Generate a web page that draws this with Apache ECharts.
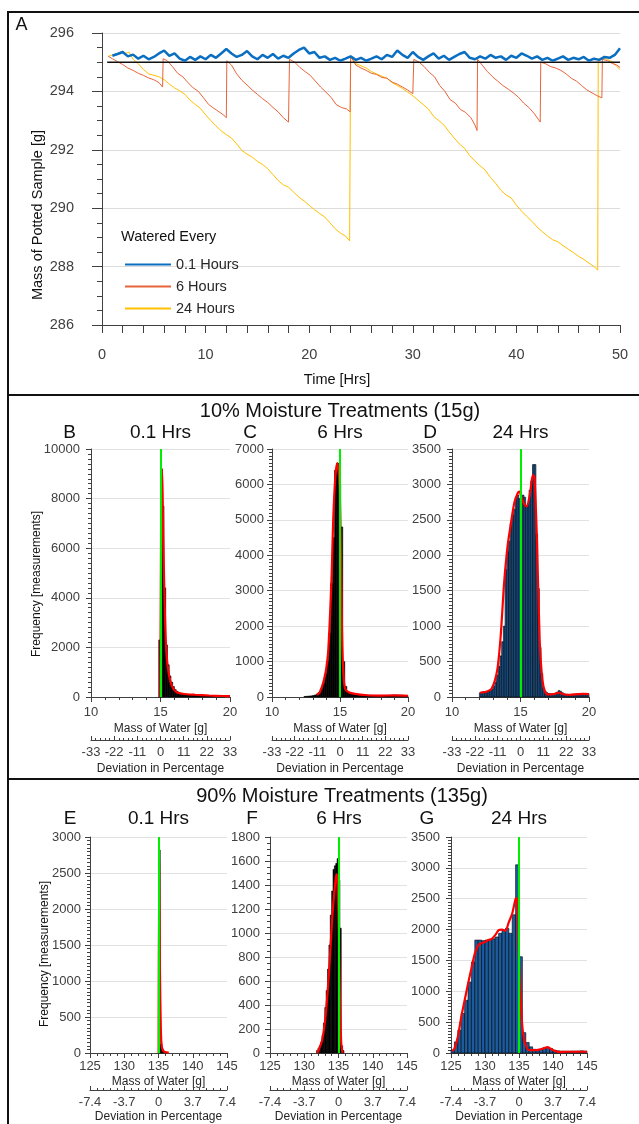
<!DOCTYPE html>
<html><head><meta charset="utf-8">
<script src="https://cdn.jsdelivr.net/npm/echarts@6/dist/echarts.min.js"></script>
<style>html,body{margin:0;padding:0;background:#fff}#c{width:639px;height:1124px}</style>
</head><body><div id="c"></div>
<script>
const FONT = '"Liberation Sans", Arial, sans-serif';
const TXT = '#262626', TICK = '#404040';

// ---------- Panel A: mass of potted sample over time ----------
const legendNames = ['0.1 Hours', '6 Hours', '24 Hours'];
const blueStart = 1.0, blueStep = 0.5;
const blueValues = [295.22,295.28,295.35,295.2,295.26,295.12,295.22,295.1,295.18,295.3,
295.4,295.22,295.3,295.12,295.05,295.18,295.08,295.2,295.1,295.25,
295.15,295.3,295.45,295.3,295.18,295.25,295.38,295.2,295.1,295.25,
295.15,295.28,295.12,295.22,295.15,295.3,295.42,295.5,295.3,295.35,
295.15,295.2,295.08,295.15,295.05,295.12,295.2,295.08,295.15,295.05,
295.12,295.2,295.1,295.25,295.18,295.4,295.25,295.15,295.35,295.18,
295.08,295.2,295.3,295.12,295.22,295.08,295.18,295.28,295.35,295.15,
295.1,295.2,295.12,295.25,295.15,295.2,295.08,295.22,295.15,295.3,
295.22,295.12,295.2,295.08,295.15,295.05,295.12,295.2,295.08,295.15,
295.1,295.18,295.05,295.12,295.08,295.18,295.15,295.25,295.48];
const orangeData = [
[0.6,295.2],[1.0,295.12],[1.5,295.02],[2.0,294.92],[2.5,294.8],[3.0,294.72],[3.5,294.62],[4.0,294.55],[4.5,294.46],[5.0,294.4],[5.5,294.3],[5.85,294.15],
[5.9,295.12],[6.3,295.05],[6.8,294.85],[7.3,294.62],[7.8,294.5],[8.3,294.3],[8.8,294.12],[9.3,294.0],[9.8,293.78],[10.3,293.55],[10.8,293.42],[11.3,293.3],[11.7,293.2],[12.0,293.1],
[12.05,295.05],[12.5,294.9],[13.0,294.6],[13.5,294.38],[14.0,294.22],[14.5,294.05],[15.0,293.9],[15.5,293.75],[16.0,293.62],[16.5,293.45],[17.0,293.3],[17.5,293.1],[18.0,292.95],
[18.1,295.1],[18.6,295.0],[19.1,294.82],[19.6,294.68],[20.1,294.55],[20.6,294.35],[21.1,294.15],[21.6,293.98],[22.1,293.8],[22.6,293.55],[23.1,293.45],[23.6,293.4],[23.95,293.3],
[24.0,295.2],[24.5,294.9],[25.0,294.8],[25.5,294.72],[26.0,294.62],[26.5,294.58],[27.0,294.48],[27.5,294.45],[28.0,294.32],[28.5,294.25],[29.0,294.15],[29.5,294.05],[30.0,293.92],
[30.1,295.1],[30.6,295.0],[31.1,294.85],[31.6,294.65],[32.1,294.5],[32.6,294.2],[33.1,294.0],[33.6,293.72],[34.1,293.6],[34.6,293.38],[35.1,293.28],[35.6,293.1],[36.0,292.85],[36.2,292.66],
[36.25,295.1],[36.7,294.9],[37.2,294.68],[37.7,294.5],[38.2,294.35],[38.7,294.2],[39.2,294.08],[39.7,293.95],[40.2,293.8],[40.7,293.6],[41.2,293.45],[41.7,293.25],[42.1,293.05],[42.3,292.95],
[42.35,295.0],[42.8,294.95],[43.3,294.85],[43.8,294.8],[44.3,294.72],[44.8,294.6],[45.3,294.45],[45.8,294.35],[46.3,294.2],[46.8,294.05],[47.3,293.95],[47.8,293.85],[48.25,293.78],
[48.3,295.1],[48.8,295.05],[49.3,294.95],[49.7,294.9],[50.0,294.82]];
const yellowData = [
[0.6,295.2],[1.0,295.25],[1.5,295.3],[2.0,295.38],[2.3,295.3],[2.6,295.35],[3.0,295.1],[3.5,294.95],[4.0,294.75],[4.5,294.6],[5.0,294.55],[5.5,294.5],[6.0,294.4],[6.5,294.25],[7.0,294.12],[7.5,294.02],[8.0,293.9],[8.5,293.7],[9.0,293.55],[9.5,293.42],[10.0,293.2],[10.5,293.0],[11.0,292.82],[11.5,292.65],[12.0,292.52],[12.5,292.4],[13.0,292.2],[13.5,291.98],[14.0,291.85],[14.5,291.75],[15.0,291.6],[15.5,291.5],[16.0,291.35],[16.5,291.15],[17.0,290.95],[17.5,290.8],[18.0,290.72],[18.5,290.55],[19.0,290.38],[19.5,290.25],[20.0,290.1],[20.5,289.95],[21.0,289.82],[21.5,289.7],[22.0,289.5],[22.5,289.3],[23.0,289.15],[23.5,289.05],[23.9,288.88],
[24.0,295.2],[24.5,294.95],[25.0,294.88],[25.5,294.8],[26.0,294.68],[26.5,294.6],[27.0,294.52],[27.5,294.45],[28.0,294.3],[28.5,294.2],[29.0,294.1],[29.5,293.98],[30.0,293.85],[30.5,293.7],[31.0,293.55],[31.5,293.4],[32.0,293.15],[32.5,293.0],[33.0,292.85],[33.5,292.62],[34.0,292.4],[34.5,292.2],[35.0,292.05],[35.5,291.8],[36.0,291.62],[36.5,291.45],[37.0,291.3],[37.5,291.05],[38.0,290.85],[38.5,290.62],[39.0,290.45],[39.5,290.35],[40.0,290.1],[40.5,289.9],[41.0,289.72],[41.5,289.55],[42.0,289.35],[42.5,289.2],[43.0,289.05],[43.5,288.92],[44.0,288.85],[44.5,288.72],[45.0,288.6],[45.5,288.48],[46.0,288.35],[46.5,288.25],[47.0,288.12],[47.5,288.0],[47.85,287.88],
[47.9,295.1],[48.3,295.15],[48.8,295.1],[49.3,295.0],[49.7,294.85],[50.0,294.75]];
const targetLine = [[0.5,295.0],[50,295.0]];

// ---------- Histograms ----------
const bStart = 14.875, bWidth = 0.125;
const bCounts = [2300,9200,7700,4400,2100,1300,850,600,420,300,230,190,160,140,125,115,105,95,90,85,80,75,70,65,62,58,55,52,50,47,45,42,40,38,36,34,32,30];
const bFit = [[14.98,0],[15.02,4000],[15.06,8500],[15.1,9200],[15.15,8300],[15.2,6400],[15.3,3700],[15.4,2050],[15.55,1100],[15.8,470],[16.15,200],[16.6,130],[17.5,90],[18.5,60],[19.5,40],[20,35]];

const cStart = 12.35, cWidth = 0.15;
const cCounts = [15,20,25,30,40,55,80,130,220,380,650,1000,1800,3200,4500,6400,6600,6000,4800,1000,300,150,110,90,80,75,70,65,60,55,55,50,50,48,46,45,45,44,44,45,46,48,50,52,55,55,52,50,48,45,40];
const cFit = [[13.3,60],[13.53,140],[13.9,610],[14.12,1230],[14.26,2260],[14.39,3490],[14.5,5000],[14.66,6230],[14.8,6600],[14.95,6130],[15.05,4430],[15.15,1790],[15.25,660],[15.37,240],[15.6,140],[16.0,95],[17.0,50],[18.0,40],[19.0,45],[20.0,35]];

const dStart = 12.0, dWidth = 0.125;
const dCounts = [60,70,75,78,80,82,90,110,150,210,310,430,580,780,1000,1800,2050,2200,2450,2570,2650,2820,2850,2800,2830,2850,2820,2700,2720,2920,3050,3280,3280,2300,1530,700,330,120,80,60,50,45,45,50,55,70,90,80,60,45,40,38,35,35,38,40,42,45,48,50,50,48,45,42];
const dFit = [[12.05,60],[12.5,75],[12.9,120],[13.3,380],[13.55,850],[13.8,1600],[14.05,2120],[14.3,2450],[14.55,2740],[14.8,2880],[14.92,2900],[15.1,2800],[15.3,2710],[15.45,2690],[15.7,2880],[15.9,3130],[16.02,3100],[16.2,2220],[16.4,800],[16.6,240],[16.8,70],[17.0,35],[17.4,40],[17.8,60],[18.2,35],[18.6,30],[19.2,40],[19.6,45],[20.0,40]];

const eStart = 135.0, eWidth = 0.25;
const eCounts = [2820,120,45,20,10];
const eFit = [[135.02,0],[135.08,2650],[135.2,1200],[135.35,300],[135.5,80],[135.8,20],[136.5,5]];

const fStart = 131.8, fWidth = 0.2;
const fCounts = [20,40,60,90,150,250,380,520,700,900,1150,1350,1530,1560,1580,1620,1440,1040,60,20];
const fFit = [[131.9,0],[132.1,25],[132.6,105],[133.1,300],[133.6,660],[134.1,1140],[134.5,1410],[134.7,1490],[134.85,1440],[135.05,1020],[135.2,470],[135.4,80],[135.6,0]];

const gStart = 125.0, gWidth = 0.5;
const gCounts = [45,180,370,640,855,1150,1475,1830,1830,1820,1830,1840,1850,1880,1940,1990,2020,1940,2240,3050,1560,330,170,100,60,55,60,85,90,70,45,35,30,28,28,30,30,32,35,30];
const gFit = [[125.2,30],[125.5,70],[126,260],[126.5,580],[127,850],[127.5,1120],[128,1370],[128.5,1610],[129,1745],[129.5,1780],[130,1800],[130.5,1830],[131,1850],[131.5,1910],[132,1990],[132.5,2000],[133,1980],[133.5,2120],[134,2260],[134.5,2500],[134.7,2510],[135,1500],[135.3,750],[135.6,310],[136,125],[136.5,45],[137.5,45],[138.5,70],[139.2,95],[140,45],[141,15],[142,20],[143,20],[144,20],[145,20]];

function bins(start, width, counts) {
  return counts.map((c, i) => [start + i * width, start + (i + 1) * width, c]);
}
const plain = v => String(v);

const histDefs = [
  {grid:{left:91,top:449,width:139,height:248}, xmin:10,xmax:20,target:15, ymax:10000,yint:2000,ms:10, ym:11, bars:bins(bStart,bWidth,bCounts), fill:'#000', fit:bFit, pct:100/3, pint:100/9, off:43, lm:9, ng1:26, ng2:23, ten:true},
  {grid:{left:272,top:449,width:136,height:248}, xmin:10,xmax:20,target:15, ymax:7000,yint:1000,ms:10, ym:8, bars:bins(cStart,cWidth,cCounts), fill:'#000', fit:cFit, pct:100/3, pint:100/9, off:43, lm:9, ng1:26, ng2:23, ten:true},
  {grid:{left:452,top:449,width:137,height:248}, xmin:10,xmax:20,target:15, ymax:3500,yint:500,ms:10, ym:11, bars:bins(dStart,dWidth,dCounts), fill:'#1a5c9e', fit:dFit, pct:100/3, pint:100/9, off:43, lm:9, ng1:26, ng2:23, ten:true},
  {grid:{left:90,top:837,width:137,height:216}, xmin:125,xmax:145,target:135, ymax:3000,yint:500,ms:10, ym:9, bars:bins(eStart,eWidth,eCounts), fill:'#000', fit:eFit, pct:1000/135, pint:500/135, off:37, lm:7, ng1:23, ng2:21, ten:false},
  {grid:{left:270,top:837,width:137,height:216}, xmin:125,xmax:145,target:135, ymax:1800,yint:200,ms:4, ym:10, bars:bins(fStart,fWidth,fCounts), fill:'#000', fit:fFit, pct:1000/135, pint:500/135, off:37, lm:7, ng1:23, ng2:21, ten:false},
  {grid:{left:451,top:837,width:136,height:216}, xmin:125,xmax:145,target:135, ymax:3500,yint:500,ms:10, ym:11, bars:bins(gStart,gWidth,gCounts), fill:'#1a5c9e', fit:gFit, pct:1000/135, pint:500/135, off:37, lm:7, ng1:23, ng2:21, ten:false}
];

const grids = [{left:102, top:33, width:518, height:292}];
const xAxes = [{
  gridIndex:0, type:'value', min:0, max:50, interval:10,
  axisLine:{onZero:false, lineStyle:{color:TICK, width:1}},
  axisTick:{length:8, lineStyle:{color:TICK}},
  minorTick:{show:true, splitNumber:5, length:8, lineStyle:{color:TICK}},
  axisLabel:{margin:22, fontSize:14.5, color:TICK, fontFamily:FONT, formatter:plain},
  splitLine:{show:false}
}];
const yAxes = [{
  gridIndex:0, type:'value', min:286, max:296, interval:2,
  axisLine:{show:true, onZero:false, lineStyle:{color:TICK, width:1}},
  axisTick:{show:true, length:10, lineStyle:{color:TICK}},
  minorTick:{show:true, splitNumber:4, length:5, lineStyle:{color:TICK}},
  axisLabel:{margin:28, fontSize:14.5, color:TICK, fontFamily:FONT, formatter:plain},
  splitLine:{lineStyle:{color:'#dcdcdc'}}
}];

const series = [
  {name:'24 Hours', type:'line', xAxisIndex:0, yAxisIndex:0, data:yellowData, symbol:'none', lineStyle:{color:'#FFC000', width:1}, itemStyle:{color:'#FFC000'}, z:2},
  {name:'6 Hours', type:'line', xAxisIndex:0, yAxisIndex:0, data:orangeData, symbol:'none', lineStyle:{color:'#E8643A', width:1}, itemStyle:{color:'#E8643A'}, z:3},
  {name:'target', type:'line', xAxisIndex:0, yAxisIndex:0, data:targetLine, symbol:'none', lineStyle:{color:'#111', width:1.5}, z:4},
  {name:'0.1 Hours', type:'line', xAxisIndex:0, yAxisIndex:0, data:blueValues.map((v,i)=>[blueStart+i*blueStep, v]), symbol:'none', lineStyle:{color:'#0A6FC2', width:2.5}, itemStyle:{color:'#0A6FC2'}, z:5}
];

histDefs.forEach((h, k) => {
  const gi = k + 1;
  grids.push(h.grid);
  const xi = xAxes.length;
  xAxes.push({
    gridIndex:gi, type:'value', min:h.xmin, max:h.xmax, interval:5,
    axisLine:{onZero:false, lineStyle:{color:TICK}}, axisTick:{length:5, lineStyle:{color:TICK}},
    minorTick:{show:true, splitNumber:5, length:3, lineStyle:{color:TICK}},
    axisLabel:{margin:h.lm, fontSize:13, color:TICK, fontFamily:FONT, formatter:plain},
    splitLine:{show:false},
    name:'Mass of Water [g]', nameLocation:'middle', nameGap:h.ng1,
    nameTextStyle:{fontSize:12, color:TXT, fontFamily:FONT}
  });
  xAxes.push({
    gridIndex:gi, type:'value', position:'bottom', offset:h.off, min:-h.pct, max:h.pct, interval:h.pint,
    axisLine:{show:true, onZero:false, lineStyle:{color:TICK}}, axisTick:{show:true, inside:true, length:4, lineStyle:{color:TICK}},
    minorTick:{show:true, splitNumber:5, length:2, lineStyle:{color:TICK}},
    axisLabel:{margin:6, fontSize:13, color:TICK, fontFamily:FONT,
      formatter: h.ten ? (v => String(Math.round(v))) : (v => Math.abs(v) < 0.01 ? '0' : v.toFixed(1))},
    splitLine:{show:false},
    name:'Deviation in Percentage', nameLocation:'middle', nameGap:h.ng2,
    nameTextStyle:{fontSize:12, color:TXT, fontFamily:FONT}
  });
  yAxes.push({
    gridIndex:gi, type:'value', min:0, max:h.ymax, interval:h.yint,
    axisLine:{show:true, onZero:false, lineStyle:{color:TICK}}, axisTick:{show:true, length:5, lineStyle:{color:TICK}},
    minorTick:{show:true, splitNumber:h.ms, length:3, lineStyle:{color:TICK}},
    axisLabel:{margin:h.ym, fontSize:13, color:TICK, fontFamily:FONT, formatter:plain},
    splitLine:{lineStyle:{color:'#e2e2e2'}}
  });
  const fill = h.fill;
  series.push({
    type:'custom', xAxisIndex:xi, yAxisIndex:gi, data:h.bars, encode:{x:[0,1], y:2}, z:2,
    renderItem:(params, api) => {
      const p0 = api.coord([api.value(0), api.value(2)]);
      const p1 = api.coord([api.value(1), 0]);
      return {type:'rect', shape:{x:p0[0], y:p0[1], width:p1[0]-p0[0], height:p1[1]-p0[1]},
        style:{fill:fill, stroke:'#000', lineWidth:0.6}};
    }
  });
  series.push({
    type:'line', xAxisIndex:xi, yAxisIndex:gi, data:h.fit, symbol:'none', smooth:0.25,
    lineStyle:{color:'#FF0000', width:2.2}, z:4,
    markLine:{silent:true, symbol:'none', label:{show:false}, animation:false,
      lineStyle:{color:'#00EE00', width:2, type:'solid'}, data:[{xAxis:h.target}]}
  });
});

function txt(text, x, y, size, opts) {
  return Object.assign({type:'text', x:x, y:y, silent:true,
    style:{text:text, fill:'#111', font:size + 'px ' + FONT, align:'center', verticalAlign:'middle'}}, opts || {});
}
const line = (x1,y1,x2,y2) => ({type:'line', silent:true, shape:{x1,y1,x2,y2}, style:{stroke:'#111', lineWidth:2}});

const graphic = [
  line(8,12,639,12), line(8,11,8,1124), line(8,395,639,395), line(8,779,639,779),
  txt('A', 21.5, 25.5, 18),
  txt('Mass of Potted Sample [g]', 37.5, 215, 14.5, {rotation:Math.PI/2}),
  txt('Time [Hrs]', 337, 380, 14.5),
  txt('Watered Every', 121, 237, 14.5),
  txt('10% Moisture Treatments (15g)', 340, 411, 20),
  txt('B', 69.5, 433, 19), txt('0.1 Hrs', 160.5, 433, 19),
  txt('C', 250, 433, 19), txt('6 Hrs', 340, 433, 19),
  txt('D', 430, 433, 19), txt('24 Hrs', 520.5, 433, 19),
  txt('Frequency [measurements]', 37, 584, 12, {rotation:Math.PI/2}),
  txt('90% Moisture Treatments (135g)', 342, 796, 20),
  txt('E', 70, 819, 19), txt('0.1 Hrs', 158.5, 819, 19),
  txt('F', 252, 819, 19), txt('6 Hrs', 339, 819, 19),
  txt('G', 427, 819, 19), txt('24 Hrs', 519, 819, 19),
  txt('Frequency [measurements]', 45, 954, 12, {rotation:Math.PI/2})
];
graphic[7].style.align = 'left';

const chart = echarts.init(document.getElementById('c'), null, {renderer:'canvas'});
chart.setOption({
  animation:false,
  backgroundColor:'#fff',
  textStyle:{fontFamily:FONT},
  grid:grids, xAxis:xAxes, yAxis:yAxes, series:series, graphic:graphic,
  legend:{left:119, top:252, orient:'vertical', itemWidth:46, itemHeight:14, itemGap:7,
    data:legendNames, selectedMode:false, itemStyle:{opacity:0},
    textStyle:{fontSize:14.5, color:TXT, fontFamily:FONT}}
});
</script></body></html>
